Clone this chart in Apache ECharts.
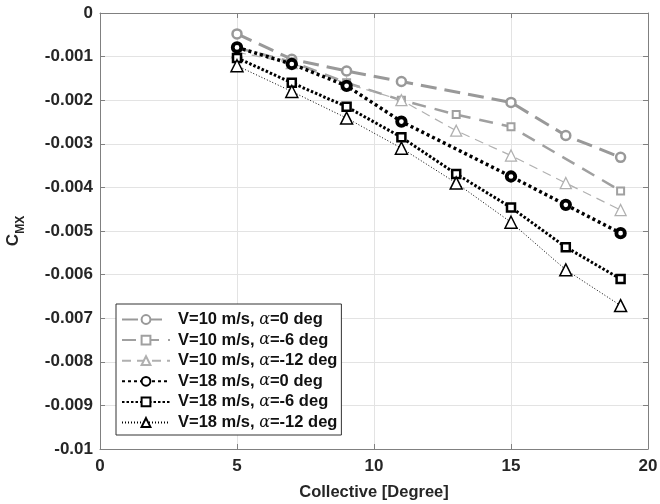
<!DOCTYPE html>
<html><head><meta charset="utf-8">
<script src="https://cdn.jsdelivr.net/npm/echarts@6/dist/echarts.min.js"></script>
<style>html,body{margin:0;padding:0;background:#fff}#c{width:660px;height:504px}</style>
</head><body><div id="c"></div>
<script>
const collective = [5, 7, 9, 11, 13, 15, 17, 19];
const v10a0  = [-0.00048, -0.00106, -0.00133, -0.00157, null, -0.00205, -0.00281, -0.00331];
const v10a6  = [-0.00080, -0.00112, -0.00160, -0.00200, -0.00233, -0.00261, null, -0.00408];
const v10a12 = [-0.00090, -0.00115, -0.00162, -0.00200, -0.00270, -0.00327, -0.00390, -0.00452];
const v18a0  = [-0.00079, -0.00117, -0.00167, -0.00249, null, -0.00375, -0.00440, -0.00505];
const v18a6  = [-0.00103, -0.00160, -0.00215, -0.00285, -0.00369, -0.00446, -0.00537, -0.00610];
const v18a12 = [-0.00121, -0.00180, -0.00241, -0.00310, -0.00390, -0.00480, -0.00589, -0.00671];
const names = ['V=10 m/s, α=0 deg','V=10 m/s, α=-6 deg','V=10 m/s, α=-12 deg','V=18 m/s, α=0 deg','V=18 m/s, α=-6 deg','V=18 m/s, α=-12 deg'];
const xTicks = [0, 5, 10, 15, 20];

function pairs(arr){ return collective.map((x,i)=>[x, arr[i]]); }
const FONT = 'Liberation Sans, Arial, sans-serif';
const AX = '#808080';
const styles = [
  {data:v10a0, color:'#999999', width:3, type:[16,8], symbol:'circle', size:9, bw:2.5},
  {data:v10a6, color:'#a0a0a0', width:2.5, type:[14,9], symbol:'rect', size:7, bw:2},
  {data:v10a12, color:'#b0b0b0', width:1.2, type:[9,6], symbol:'triangle', size:11, bw:1.3},
  {data:v18a0, color:'#000000', width:3.5, type:[3,3], symbol:'circle', size:8.5, bw:3.8},
  {data:v18a6, color:'#000000', width:3, type:[2.5,2], symbol:'rect', size:8, bw:2.5},
  {data:v18a12, color:'#000000', width:1, type:[1,2], symbol:'triangle', size:12, bw:1.5}
];
const series = styles.map((s,i)=>({
  name: names[i], type:'line', xAxisIndex:0, yAxisIndex:0,
  data: pairs(s.data), connectNulls:true,
  symbol: s.symbol, symbolSize: s.size, showSymbol:true, showAllSymbol:true,
  lineStyle:{color:s.color, width:s.width, type:s.type},
  itemStyle:{color:'#ffffff', borderColor:s.color, borderWidth:s.bw},
  emphasis:{disabled:true}, animation:false, z: 2+i
}));
const fmtY = v => String(+(+v).toFixed(4));
const chart = echarts.init(document.getElementById('c'), null, {renderer:'canvas'});
chart.setOption({
  animation:false,
  backgroundColor:'#fff',
  grid:{left:100, right:12, top:13, bottom:55, containLabel:false, outerBoundsMode:'none'},
  legend:{
    show:true, orient:'vertical', left:116, top:304,
    itemWidth:48, itemHeight:11, itemGap:3.6,
    padding:[7,4,4,5],
    backgroundColor:'#fff', borderColor:'#333', borderWidth:1,
    selectedMode:false,
    data: names,
    formatter: n => { const p = n.split('α'); return p[0] + '{a|α}' + p[1]; },
    textStyle:{fontFamily:FONT, fontWeight:'bold', fontSize:16.5, color:'#111', padding:[0,0,0,3],
      rich:{a:{fontFamily:'DejaVu Serif', fontStyle:'italic', fontWeight:'normal', fontSize:16, color:'#111'}}}
  },
  xAxis:[
    {type:'value', position:'bottom', min:0, max:20, interval:5,
     axisLine:{show:true, onZero:false, lineStyle:{color:AX, width:1}},
     axisTick:{show:true, inside:true, length:5, lineStyle:{color:AX}},
     axisLabel:{color:'#262626', fontFamily:FONT, fontWeight:'bold', fontSize:17, margin:9,
       formatter: v => String(v)},
     splitLine:{show:true, lineStyle:{color:'#e3e3e3', width:1}},
     name:'Collective [Degree]', nameLocation:'middle', nameGap:35,
     nameTextStyle:{color:'#262626', fontFamily:FONT, fontWeight:'bold', fontSize:16.5}},
    {type:'value', position:'top', min:0, max:20, interval:5,
     axisLine:{show:true, onZero:false, lineStyle:{color:AX, width:1}},
     axisTick:{show:true, inside:true, length:5, lineStyle:{color:AX}},
     axisLabel:{show:false}, splitLine:{show:false}}
  ],
  yAxis:[
    {type:'value', position:'left', min:-0.01, max:0, interval:0.001,
     axisLine:{show:true, onZero:false, lineStyle:{color:AX, width:1}},
     axisTick:{show:true, inside:true, length:5, lineStyle:{color:AX}},
     axisLabel:{color:'#262626', fontFamily:FONT, fontWeight:'bold', fontSize:17, margin:7, formatter:fmtY},
     splitLine:{show:true, lineStyle:{color:'#e3e3e3', width:1}},
     name:'{c|C}{s|MX}', nameLocation:'middle', nameGap:73, nameRotate:90,
     nameTextStyle:{color:'#262626', fontFamily:FONT, fontWeight:'bold',
       rich:{c:{fontSize:17, fontWeight:'bold', fontFamily:FONT, color:'#262626', lineHeight:22, verticalAlign:'top'},
             s:{fontSize:12, fontWeight:'bold', fontFamily:FONT, color:'#262626', lineHeight:22, verticalAlign:'bottom', padding:[8,0,0,0]}}}},
    {type:'value', position:'right', min:-0.01, max:0, interval:0.001,
     axisLine:{show:true, onZero:false, lineStyle:{color:AX, width:1}},
     axisTick:{show:true, inside:true, length:5, lineStyle:{color:AX}},
     axisLabel:{show:false}, splitLine:{show:false}}
  ],
  series: series
});
</script></body></html>
